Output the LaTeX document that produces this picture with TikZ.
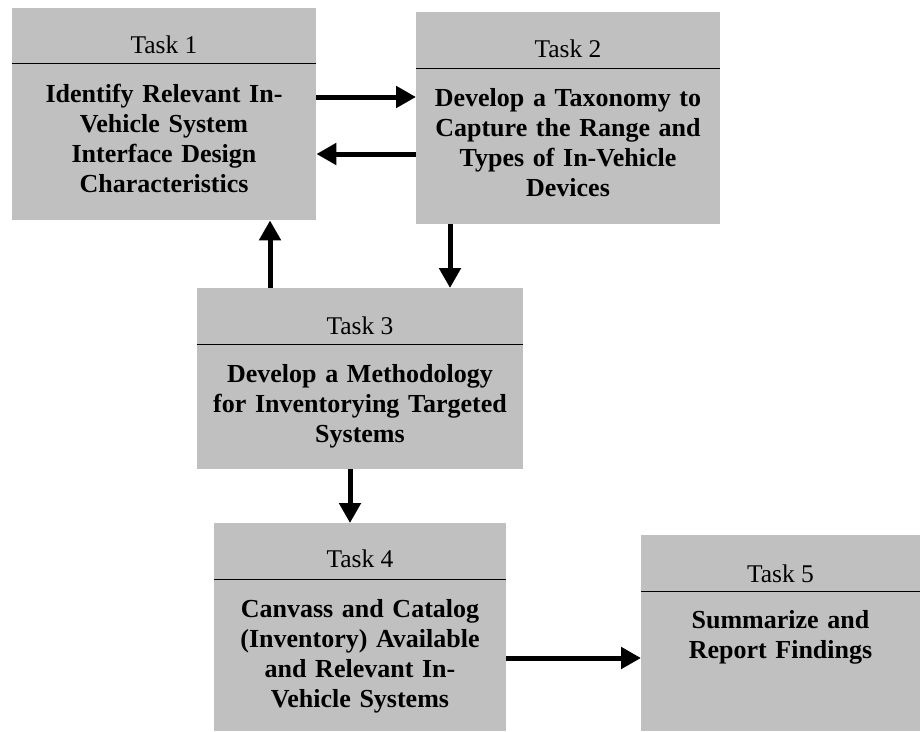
\documentclass[tikz,border=0pt]{standalone}
\usepackage{fontspec}
\setmainfont{Liberation Serif}
\usetikzlibrary{arrows.meta}
\definecolor{boxgrey}{HTML}{C0C0C0}
\tikzset{
  taskbox/.style={rectangle, fill=boxgrey, draw=none, inner sep=0pt, anchor=north west},
  tasklabel/.style={anchor=base, inner sep=0pt, font=\fontsize{25.5}{30}\selectfont},
  taskbody/.style={anchor=base, inner sep=0pt, align=center, text width=#1,
    font=\fontsize{26}{30}\selectfont\bfseries},
  divider/.style={line width=1pt, black},
  arr/.style={line width=5pt, -{Triangle[length=20pt,width=21pt]}}
}
\begin{document}
\begin{tikzpicture}[x=1pt,y=-1pt]
\useasboundingbox (0,0) rectangle (920,731);
% boxes
\node[taskbox, minimum width=304pt, minimum height=212pt] (b1) at (12,8) {};
\node[taskbox, minimum width=304pt, minimum height=212pt] (b2) at (416,12) {};
\node[taskbox, minimum width=326pt, minimum height=181pt] (b3) at (197,288) {};
\node[taskbox, minimum width=292pt, minimum height=208pt] (b4) at (214,523) {};
\node[taskbox, minimum width=279pt, minimum height=196pt] (b5) at (641,535) {};
% dividers
\draw[divider] (b1.west |- 0,63) -- (b1.east |- 0,63);
\draw[divider] (b2.west |- 0,68) -- (b2.east |- 0,68);
\draw[divider] (b3.west |- 0,344) -- (b3.east |- 0,344);
\draw[divider] (b4.west |- 0,579) -- (b4.east |- 0,579);
\draw[divider] (b5.west |- 0,591) -- (b5.east |- 0,591);
% labels
\node[tasklabel] (t1) at (164,53) {Task 1};
\node[tasklabel] (t2) at (568,57) {Task 2};
\node[tasklabel] (t3) at (360,334) {Task 3};
\node[tasklabel] (t4) at (360,567) {Task 4};
\node[tasklabel] (t5) at (780.5,582) {Task 5};
% bodies
\node[taskbody=300pt] (d1) at (164,102) {Identify Relevant In-\\Vehicle System\\Interface Design\\Characteristics};
\node[taskbody=300pt] (d2) at (568,106) {Develop a Taxonomy to\\Capture the Range and\\Types of In-Vehicle\\Devices};
\node[taskbody=322pt] (d3) at (360,382) {Develop a Methodology\\for Inventorying Targeted\\Systems};
\node[taskbody=288pt] (d4) at (360,617) {Canvass and Catalog\\(Inventory) Available\\and Relevant In-\\Vehicle Systems};
\node[taskbody=275pt] (d5) at (780.5,628) {Summarize and\\Report Findings};
% arrows
\draw[arr] (b1.east |- 0,97) -- (b2.west |- 0,97);
\draw[arr] (b2.west |- 0,154) -- (b1.east |- 0,154);
\draw[arr] (b3.north -| 270,0) -- (b1.south -| 270,0);
\draw[arr] (b2.south -| 450,0) -- (b3.north -| 450,0);
\draw[arr] (b3.south -| 350,0) -- (b4.north -| 350,0);
\draw[arr] (b4.east |- 0,658) -- (b5.west |- 0,658);
\end{tikzpicture}
\end{document}
